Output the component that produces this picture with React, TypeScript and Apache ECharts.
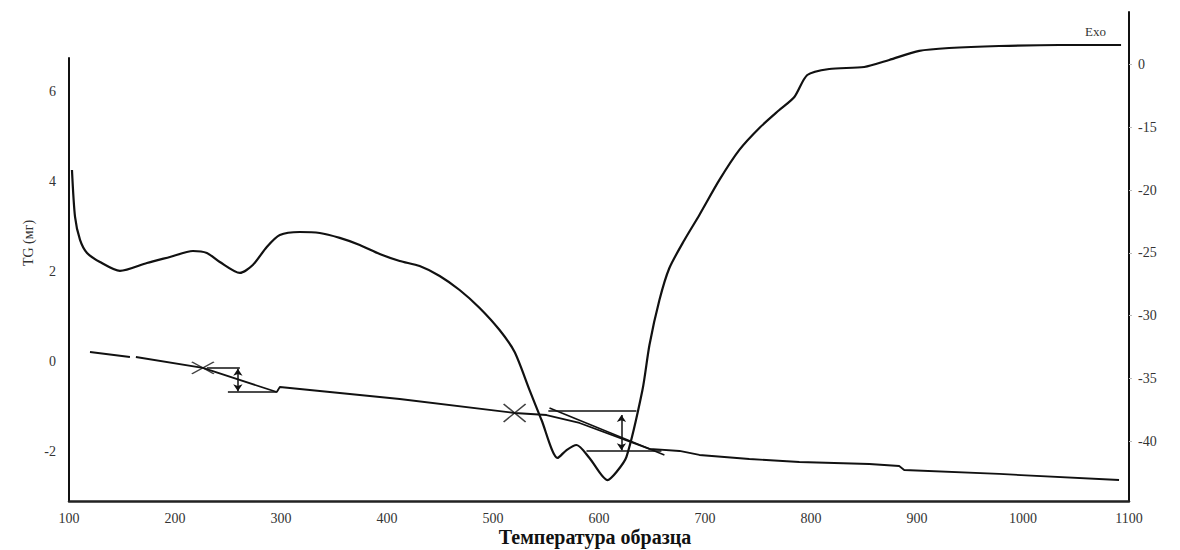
import React, { useEffect, useRef } from "react";
import * as echarts from "echarts";

// Temperature axis, °C
const tempMin = 100;
const tempMax = 1100;
const tempStep = 100;

// TG axis (left) and heat-flow axis (right)
const tgMin = -3.1;
const tgMax = 6.75;
const tgTickValues = [-2, 0, 2, 4, 6];
const dscMin = -44.76;
const dscMax = -5.8;
const dscTickValues = [-40, -35, -30, -25, -20, -15, -10];
const dscTickLabels = ["-40", "-35", "-30", "-25", "-20", "-15", "0"];

// Heat-flow curve: [temperature, signal]
const dscCurve: [number, number][] = [
  [102.8, -18.39], [105.7, -22.13], [110.4, -23.96], [117.0, -25.0],
  [129.2, -25.72], [148.1, -26.43], [173.5, -25.8], [195.2, -25.32],
  [216.9, -24.84], [230.1, -25.0], [242.3, -25.72], [261.2, -26.59],
  [273.4, -25.96], [286.6, -24.52], [298.9, -23.57], [317.7, -23.33],
  [336.6, -23.41], [355.4, -23.8], [374.3, -24.36], [393.1, -25.08],
  [412.0, -25.64], [430.8, -26.04], [449.7, -26.83], [468.5, -27.95],
  [487.4, -29.38], [506.2, -31.14], [520.4, -32.89], [534.5, -35.92],
  [545.8, -38.31], [560.9, -41.33], [569.4, -40.7], [578.8, -40.3],
  [591.0, -41.33], [608.0, -43.09], [616.5, -42.45], [625.9, -41.25],
  [641.0, -35.92], [647.6, -32.33], [657.0, -28.75], [666.4, -26.2],
  [680.6, -23.96], [694.7, -21.97], [713.6, -19.18], [732.4, -16.79],
  [751.3, -15.04], [770.1, -13.61], [784.3, -12.57], [796.5, -10.82],
  [817.2, -10.34], [850.2, -10.18], [873.8, -9.62], [902.1, -8.9],
  [930.3, -8.67], [977.5, -8.51], [1034.0, -8.43], [1092.5, -8.43],
];

// Mass-loss curve (TG, мг); "-" breaks the line
const tgCurve: (number | string)[][] = [
  [119.8, 0.213], [157.5, 0.102], ["-", "-"], [163.1, 0.102],
  [226.3, -0.142], [296.0, -0.676], [298.9, -0.565], [336.6, -0.654],
  [412.0, -0.832], [520.4, -1.143], [550.5, -1.188], [581.6, -1.365],
  [647.6, -1.943], [675.9, -1.988], [694.7, -2.077], [741.8, -2.166],
  [789.0, -2.233], [855.0, -2.277], [883.2, -2.322], [887.9, -2.411],
  [977.5, -2.499], [1090.6, -2.633],
];

// Construction lines for the two mass-loss steps
const crossMarks: [number, number][] = [
  [226.3, -0.142],
  [520.4, -1.143],
];
const levelLines: [number, number][][] = [
  [[230.1, -0.142], [261.2, -0.142]],
  [[249.9, -0.676], [296.0, -0.676]],
  [[552.2, -1.099], [635.3, -1.099]],
  [[588.2, -1.988], [658.9, -1.988]],
];
const tangentLines: [number, number][][] = [
  [[553.3, -1.032], [661.7, -2.077]],
];
const stepArrows: [number, number][][] = [
  [[259.3, -0.16], [259.3, -0.66]],
  [[621.2, -1.19], [621.2, -1.97]],
];

const crossSizes = [
  [22, 12],
  [22, 18],
];

const FONT = "'Liberation Serif', 'Times New Roman', serif";
const INK = "#111";

export default function App() {
  const ref = useRef<HTMLDivElement>(null);

  useEffect(() => {
    if (!ref.current) return;
    const chart = echarts.init(ref.current, undefined, { renderer: "svg" });

    const plainSegs = [...levelLines, ...tangentLines].map((seg) => [
      { coord: seg[0] },
      { coord: seg[1] },
    ]);
    const arrowSegs = stepArrows.map((seg) => [
      { coord: seg[0], symbol: "arrow", symbolSize: 7 },
      { coord: seg[1], symbol: "arrow", symbolSize: 7 },
    ]);

    chart.setOption({
      animation: false,
      backgroundColor: "#fff",
      textStyle: { fontFamily: FONT },
      grid: [
        { left: 69, right: 51, top: 58, bottom: 49 },
        { left: 69, right: 51, top: 12, bottom: 49 },
      ],
      xAxis: [
        {
          type: "value",
          gridIndex: 0,
          min: tempMin,
          max: tempMax,
          interval: tempStep,
          axisLine: { show: true, onZero: false, lineStyle: { color: "#222", width: 2.5 } },
          axisTick: { show: false },
          splitLine: { show: false },
          axisLabel: {
            color: "#333",
            fontFamily: FONT,
            fontSize: 14,
            margin: 10,
            formatter: (v: number) => String(v),
          },
        },
        {
          type: "value",
          gridIndex: 1,
          min: tempMin,
          max: tempMax,
          show: false,
        },
      ],
      yAxis: [
        {
          type: "value",
          gridIndex: 0,
          min: tgMin,
          max: tgMax,
          axisLine: { show: true, lineStyle: { color: INK, width: 2 } },
          axisTick: { show: false },
          splitLine: { show: false },
          axisLabel: {
            customValues: tgTickValues,
            color: "#333",
            fontFamily: FONT,
            fontSize: 14,
            margin: 13,
          },
        },
        {
          type: "value",
          gridIndex: 1,
          position: "right",
          min: dscMin,
          max: dscMax,
          axisLine: { show: true, lineStyle: { color: INK, width: 2 } },
          axisTick: {
            show: true,
            customValues: dscTickValues,
            length: 3,
            lineStyle: { color: "#bbb", width: 1 },
          },
          splitLine: { show: false },
          axisLabel: {
            customValues: dscTickValues,
            color: "#333",
            fontFamily: FONT,
            fontSize: 14,
            margin: 9,
            formatter: (v: number) => {
              const i = dscTickValues.indexOf(v);
              return i >= 0 ? dscTickLabels[i] : "";
            },
          },
        },
      ],
      graphic: [
        {
          type: "text",
          left: 1085,
          top: 25,
          style: { text: "Exo", font: `13px ${FONT}`, fill: "#333" },
        },
        {
          type: "text",
          x: 28,
          y: 243,
          rotation: Math.PI / 2,
          style: {
            text: "TG (мг)",
            font: `14px ${FONT}`,
            fill: "#333",
            align: "center",
            verticalAlign: "middle",
          },
        },
        {
          type: "text",
          x: 595,
          y: 537,
          style: {
            text: "Температура образца",
            font: `bold 20px ${FONT}`,
            fill: INK,
            align: "center",
            verticalAlign: "middle",
          },
        },
      ],
      series: [
        {
          type: "line",
          name: "DSC",
          xAxisIndex: 1,
          yAxisIndex: 1,
          data: dscCurve,
          showSymbol: false,
          smooth: 0.25,
          silent: true,
          lineStyle: { color: INK, width: 2.2 },
        },
        {
          type: "line",
          name: "TG",
          xAxisIndex: 0,
          yAxisIndex: 0,
          data: tgCurve,
          showSymbol: false,
          silent: true,
          lineStyle: { color: INK, width: 1.8 },
          markLine: {
            silent: true,
            symbol: ["none", "none"],
            label: { show: false },
            lineStyle: { color: INK, width: 1.5, type: "solid" },
            emphasis: { disabled: true },
            data: [...plainSegs, ...arrowSegs],
          },
        },
        {
          type: "scatter",
          name: "marks",
          xAxisIndex: 0,
          yAxisIndex: 0,
          silent: true,
          symbol: "path://M0,0L10,10M10,0L0,10",
          symbolKeepAspect: false,
          data: crossMarks.map((p, i) => ({ value: p, symbolSize: crossSizes[i] })),
          itemStyle: { color: "none", borderColor: INK, borderWidth: 1.5 },
        },
      ],
    });

    return () => chart.dispose();
  }, []);

  return (
    <div
      ref={ref}
      style={{ position: "fixed", left: 0, top: 0, width: 1180, height: 550 }}
    />
  );
}
